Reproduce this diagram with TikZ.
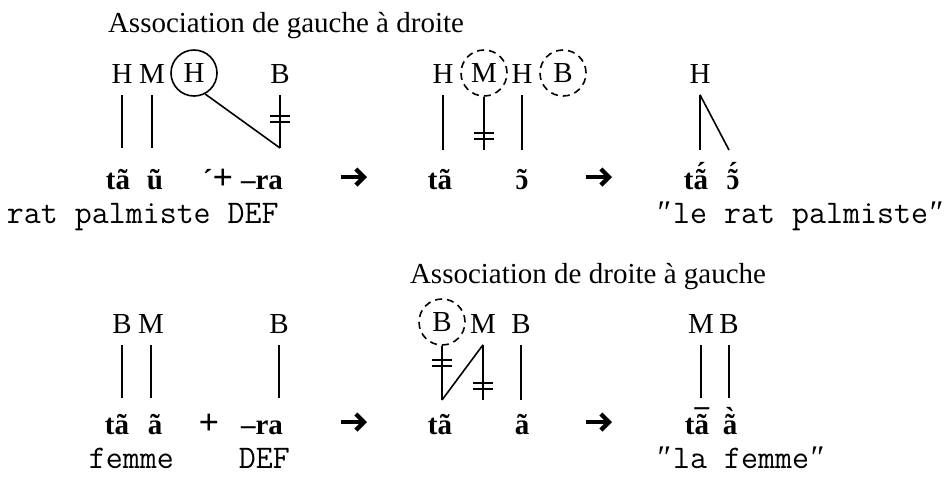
\documentclass[tikz,border=0pt]{standalone}
\usepackage{fontspec}
\setmainfont{Liberation Serif}
\setmonofont{Latin Modern Mono}
\usetikzlibrary{arrows.meta}

% accent stacked over a letter
\newcommand{\stk}[3]{{\ooalign{#1\cr\hidewidth\raisebox{#3}{#2}\hidewidth\cr}}}
\newcommand{\dq}{\makebox[8.66pt]{\rmfamily ″}}
\newcommand{\grv}{\reflectbox{´}}
\newcommand{\pls}{{\fontsize{18}{18}\selectfont +}}

\tikzset{
  tone/.style={circle,inner sep=0pt,minimum size=20pt,font=\fontsize{14.5}{16}\selectfont},
  ring/.style={tone,draw,minimum size=23pt},
  dashring/.style={ring,dash pattern=on 3.5pt off 2.5pt},
  seg/.style={anchor=base,inner sep=0pt,font=\fontsize{14.5}{16}\selectfont\bfseries},
  gloss/.style={anchor=base west,inner sep=0pt,font=\fontsize{16.5}{18}\selectfont\ttfamily},
  title/.style={anchor=base,inner sep=0pt,font=\fontsize{14.5}{16}\selectfont},
  derive/.style={line width=2.2pt,-{Straight Barb[length=4pt,width=8pt]}},
  cutmark/.pic={\draw[line width=0.9pt] (-10,-3) -- (10,-3) (-10,3) -- (10,3);}
}

\begin{document}
\begin{tikzpicture}[x=0.5pt,y=-0.5pt,line width=0.8pt]
  \useasboundingbox (0,0) rectangle (952,479);

  % ---- association de gauche a droite
  \node[title] (title1) at (286,32) {Association de gauche à droite};

  \node[tone] (aH1) at (122,74) {H};
  \node[tone] (aM1) at (152,74) {M};
  \node[ring] (aH2) at (194,73) {H};
  \node[tone] (aB1) at (280,74) {B};
  \coordinate (aBase) at (0,148);
  \foreach \n in {aH1,aM1,aB1}
    \draw (\n.south) -- (\n.south |- aBase);
  \draw (aH2.-62) -- (aB1.south |- aBase);
  \pic at (280,119) {cutmark};

  \node[seg] (aS1) at (118,189) {tã};
  \node[seg] (aS2) at (155,189) {ũ};
  \node[seg] (aS3) at (218,189) {´\pls};
  \node[seg] (aS4) at (262,189) {–ra};

  \coordinate (arr1a) at (341,177);
  \coordinate (arr1b) at (367,177);
  \draw[derive] (arr1a) -- (arr1b);

  \node[tone] (bH1) at (443,74) {H};
  \node[dashring] (bM1) at (484,73) {M};
  \node[tone] (bH2) at (522,74) {H};
  \node[dashring] (bB1) at (563,73) {B};
  \coordinate (bBase) at (0,150);
  \foreach \n in {bH1,bM1,bH2}
    \draw (\n.south) -- (\n.south |- bBase);
  \pic at (484,136) {cutmark};

  \node[seg] (bS1) at (440,189) {tã};
  \node[seg] (bS2) at (522,189) {\stk{ɔ}{˜}{0pt}};

  \coordinate (arr2a) at (586,177);
  \coordinate (arr2b) at (612,177);
  \draw[derive] (arr2a) -- (arr2b);

  \node[tone] (cH1) at (700,74) {H};
  \coordinate (cBase) at (0,150);
  \coordinate (cEnd) at (729,150);
  \draw (cH1.south) -- (cH1.south |- cBase);
  \draw (cH1.south) -- (cEnd);

  \node[seg] (cS1) at (696,189) {t\stk{ã}{´}{3.4pt}};
  \node[seg] (cS2) at (733,189) {\stk{\stk{ɔ}{˜}{0pt}}{´}{3.4pt}};

  \node[gloss] (aG1) at (6,223) {rat palmiste DEF};
  \node[gloss] (cG1) at (655,223) {\dq{}le rat palmiste\dq};

  % ---- association de droite a gauche
  \node[title] (title2) at (588,283) {Association de droite à gauche};

  \node[tone] (dB1) at (122,324) {B};
  \node[tone] (dM1) at (151,324) {M};
  \node[tone] (dB2) at (279,324) {B};
  \coordinate (dBase) at (0,398);
  \foreach \n in {dB1,dM1,dB2}
    \draw (\n.south) -- (\n.south |- dBase);

  \node[seg] (dS1) at (117,434) {tã};
  \node[seg] (dS2) at (155,434) {ã};
  \node[seg] (dS3) at (209,434) {\pls};
  \node[seg] (dS4) at (262,434) {–ra};

  \coordinate (arr3a) at (341,422);
  \coordinate (arr3b) at (367,422);
  \draw[derive] (arr3a) -- (arr3b);

  \node[dashring] (eB1) at (442,322) {B};
  \node[tone] (eM1) at (483,324) {M};
  \node[tone] (eB2) at (521,324) {B};
  \coordinate (eBase) at (0,400);
  \foreach \n in {eB1,eM1,eB2}
    \draw (\n.south) -- (\n.south |- eBase);
  \draw (eB1.south |- eBase) -- (eM1.south);
  \pic at (442,363) {cutmark};
  \pic at (483,386) {cutmark};

  \node[seg] (eS1) at (440,434) {tã};
  \node[seg] (eS2) at (522,434) {ã};

  \coordinate (arr4a) at (586,422);
  \coordinate (arr4b) at (612,422);
  \draw[derive] (arr4a) -- (arr4b);

  \node[tone] (fM1) at (701,324) {M};
  \node[tone] (fB1) at (729,324) {B};
  \coordinate (fBase) at (0,398);
  \foreach \n in {fM1,fB1}
    \draw (\n.south) -- (\n.south |- fBase);

  \node[seg] (fS1) at (697,434) {t\stk{ã}{¯}{2.2pt}};
  \node[seg] (fS2) at (730,434) {\stk{ã}{\grv}{3.4pt}};

  \node[gloss] (dG1) at (88,468) {femme};
  \node[gloss] (dG2) at (238,468) {DEF};
  \node[gloss] (fG1) at (655,468) {\dq{}la femme\dq};
\end{tikzpicture}
\end{document}
